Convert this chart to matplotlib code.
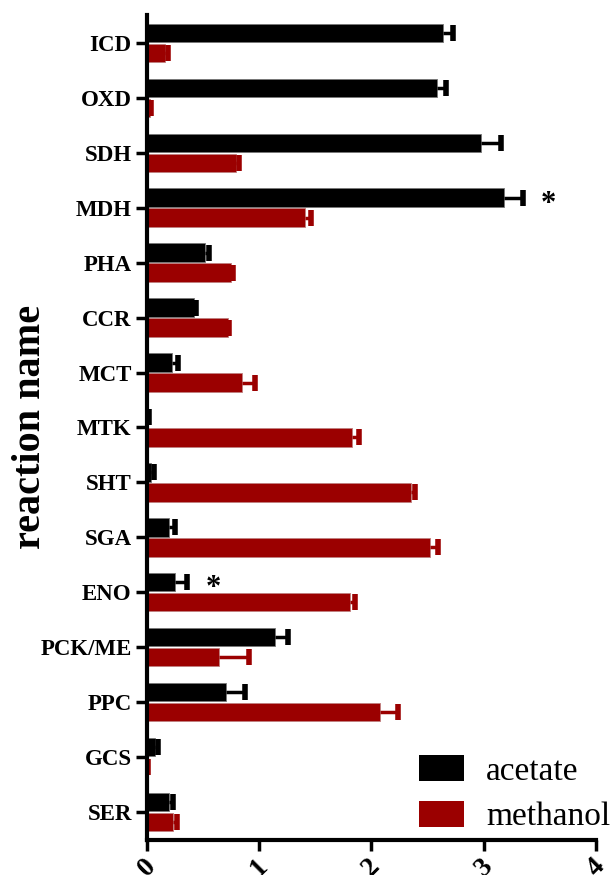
import matplotlib

matplotlib.use("Agg")

import matplotlib.pyplot as plt
import numpy as np
from matplotlib.patches import Patch

reactions = ["ICD", "OXD", "SDH", "MDH", "PHA", "CCR", "MCT", "MTK",
             "SHT", "SGA", "ENO", "PCK/ME", "PPC", "GCS", "SER"]
acetate = [2.64, 2.58, 2.98, 3.18, 0.52, 0.42, 0.22, 0.01,
           0.04, 0.20, 0.25, 1.14, 0.70, 0.07, 0.20]
acetate_err = [0.09, 0.08, 0.17, 0.17, 0.03, 0.02, 0.06, 0.005,
               0.02, 0.05, 0.11, 0.12, 0.17, 0.03, 0.03]
methanol = [0.16, 0.03, 0.79, 1.41, 0.75, 0.72, 0.85, 1.83,
            2.35, 2.52, 1.81, 0.64, 2.08, 0.005, 0.23]
methanol_err = [0.03, 0.01, 0.03, 0.05, 0.02, 0.01, 0.11, 0.06,
                0.04, 0.07, 0.04, 0.27, 0.16, 0.002, 0.04]
xticks = [0, 1, 2, 3, 4]
significant = ["MDH", "ENO"]

ACETATE_COLOR = "#000000"
METHANOL_COLOR = "#9b0000"
SERIF = ["Liberation Serif", "DejaVu Serif"]

plt.rcParams["font.family"] = SERIF

fig = plt.figure(figsize=(6.15, 8.75), dpi=100)
ax = fig.add_axes([0.239, 0.040, 0.730, 0.943])

y = np.arange(len(reactions))
h = 0.335
off = 0.182


def one_sided_err(values, errs, ypos, color):
    values = np.asarray(values)
    tips = values + np.asarray(errs)
    ax.hlines(ypos, values, tips, color=color, linewidth=2.5)
    ax.plot(tips, ypos, linestyle="none", marker="|", markersize=11,
            markeredgewidth=4, color=color)


ax.barh(y - off, acetate, height=h, color=ACETATE_COLOR, edgecolor="#777777", linewidth=0.6)
ax.barh(y + off, methanol, height=h, color=METHANOL_COLOR, edgecolor="#c08080", linewidth=0.6)
one_sided_err(acetate, acetate_err, y - off, ACETATE_COLOR)
one_sided_err(methanol, methanol_err, y + off, METHANOL_COLOR)

# significance marks to the right of the acetate error bars
for name in significant:
    i = reactions.index(name)
    ax.text(acetate[i] + acetate_err[i] + 0.23, i - off + 0.12, "*",
            ha="center", va="center", fontsize=22, fontweight="bold")

ax.set_ylim(len(reactions) - 0.49, -0.51)
ax.set_xlim(0, 4)
ax.set_yticks(y)
ax.set_yticklabels(reactions, fontsize=16.5, fontweight="bold")
ax.set_xticks(xticks)
ax.set_xticklabels([str(t) for t in xticks], fontsize=20, fontweight="bold",
                   rotation=45, ha="center", va="top")
ax.tick_params(axis="both", direction="out", length=8, width=2.5, pad=3)
ax.tick_params(axis="x", pad=2)

for side in ("top", "right"):
    ax.spines[side].set_visible(False)
for side in ("left", "bottom"):
    ax.spines[side].set_linewidth(3)

fig.text(0.050, 0.512, "reaction name", rotation=90, ha="center", va="center",
         fontsize=29, fontweight="bold")

handles = [Patch(facecolor=ACETATE_COLOR, label="acetate"),
           Patch(facecolor=METHANOL_COLOR, label="methanol")]
ax.legend(handles=handles, loc="lower right", bbox_to_anchor=(1.076, -0.015),
          frameon=False, fontsize=24, handlelength=1.36, handleheight=0.82,
          handletextpad=0.65, labelspacing=0.42, borderaxespad=0.2)

fig.savefig("out.png", dpi=100)
